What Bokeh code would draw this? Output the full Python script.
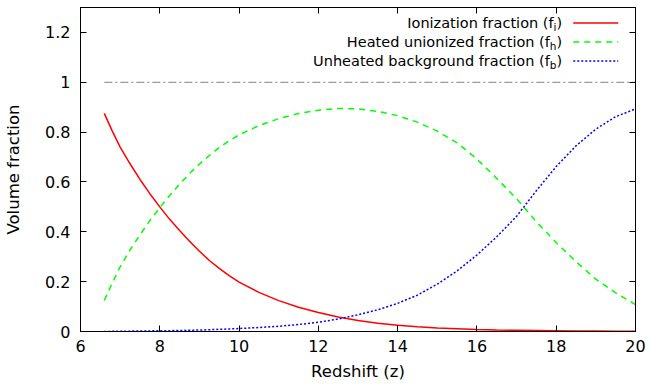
from bokeh.plotting import figure
from bokeh.models import Range1d, FixedTicker, LinearAxis, Label, CustomJSTickFormatter
from bokeh.embed import file_html
from bokeh.resources import INLINE

# ---- data ----
z = [6.6, 6.8, 7, 7.25, 7.5, 7.75, 8, 8.25, 8.5, 8.75, 9, 9.25, 9.5, 9.75, 10,
     10.5, 11, 11.5, 12, 12.5, 13, 13.5, 14, 14.5, 15, 15.5, 16, 16.5, 17, 17.5,
     18, 18.5, 19, 19.5, 20]
f_ion = [0.875, 0.805, 0.74, 0.673, 0.61, 0.553, 0.50, 0.45, 0.405, 0.362, 0.322,
         0.285, 0.253, 0.224, 0.198,
         0.157, 0.124, 0.097, 0.076, 0.058, 0.044, 0.033, 0.025, 0.019, 0.014, 0.011,
         0.008, 0.006, 0.005, 0.004, 0.003, 0.002, 0.002, 0.001, 0.001]
f_heat = [0.125, 0.194, 0.259, 0.327, 0.388, 0.445, 0.497, 0.546, 0.591, 0.634, 0.672,
          0.706, 0.738, 0.765, 0.789,
          0.826, 0.854, 0.875, 0.888, 0.895, 0.893, 0.883, 0.866, 0.84, 0.804, 0.757,
          0.692, 0.614, 0.533, 0.44, 0.357, 0.28, 0.21, 0.155, 0.108]
f_back = [0.000, 0.0005, 0.001, 0.0015, 0.002, 0.0025, 0.003, 0.0035, 0.004, 0.005, 0.006,
          0.007, 0.009, 0.010, 0.012,
          0.016, 0.021, 0.028, 0.037, 0.05, 0.067, 0.087, 0.113, 0.146, 0.19, 0.243,
          0.307, 0.38, 0.462, 0.565, 0.662, 0.745, 0.812, 0.862, 0.893]
total_z = [6.6, 20]
total = [1.0, 1.0]

x_ticks = [6, 8, 10, 12, 14, 16, 18, 20]
y_ticks = [0, 0.2, 0.4, 0.6, 0.8, 1, 1.2]

legend_main = ["Ionization fraction (f", "Heated unionized fraction (f", "Unheated background fraction (f"]
legend_sub = ["i", "h", "b"]
colors = ["#ff0000", "#00ff00", "#0000ff"]
dashes = ["solid", "6 5", "2 2"]

FONT = "DejaVu Sans"

p = figure(width=649, height=387, x_range=Range1d(6, 20), y_range=Range1d(0, 1.3),
           output_backend="svg", toolbar_location=None,
           min_border_left=80, min_border_right=14, min_border_top=7, min_border_bottom=56)
p.grid.visible = False
p.outline_line_color = "black"
p.outline_line_width = 1
p.background_fill_color = "white"
p.border_fill_color = "white"

fmt = CustomJSTickFormatter(code="return tick.toString();")
blank = CustomJSTickFormatter(code="return '';")

for ax in p.xaxis:
    ax.ticker = FixedTicker(ticks=x_ticks)
    ax.axis_label = "Redshift (z)"
    ax.major_label_standoff = 8
    ax.axis_label_standoff = 7
for ax in p.yaxis:
    ax.ticker = FixedTicker(ticks=y_ticks)
    ax.formatter = fmt
    ax.axis_label = "Volume fraction"
    ax.major_label_standoff = 10
    ax.axis_label_standoff = 19

for ax in list(p.xaxis) + list(p.yaxis):
    ax.major_tick_in = 6
    ax.major_tick_out = 0
    ax.minor_tick_in = 0
    ax.minor_tick_out = 0
    ax.axis_line_color = "black"
    ax.major_tick_line_color = "black"
    ax.major_label_text_font = FONT
    ax.major_label_text_font_size = "16px"
    ax.major_label_text_color = "black"
    ax.axis_label_text_font = FONT
    ax.axis_label_text_font_size = "16.5px"
    ax.axis_label_text_font_style = "normal"
    ax.axis_label_text_color = "black"

# mirrored ticks (top, right), without labels
top = LinearAxis(ticker=FixedTicker(ticks=x_ticks), formatter=blank,
                 major_tick_in=6, major_tick_out=0, minor_tick_in=0, minor_tick_out=0,
                 major_label_standoff=0, axis_line_color="black")
right = LinearAxis(ticker=FixedTicker(ticks=y_ticks), formatter=blank,
                   major_tick_in=6, major_tick_out=0, minor_tick_in=0, minor_tick_out=0,
                   major_label_standoff=0, axis_line_color="black")
p.add_layout(top, "above")
p.add_layout(right, "right")

# total line
p.line(total_z, total, line_color="#808080", line_width=1, line_dash="8 3 2 3")

series = [f_ion, f_heat, f_back]
for vals, c, d in zip(series, colors, dashes):
    p.line(z, vals, line_color=c, line_width=1.5, line_dash=d)

# legend (manual, for subscripts)
leg_y = [1.238, 1.162, 1.0855]
leg_x_text = 18.15
leg_x0, leg_x1 = 18.43, 19.565
sub_w = {"i": 2.9, "h": 6.6, "b": 6.7}
paren_w = 5.7
for i in range(3):
    y = leg_y[i]
    p.line([leg_x0, leg_x1], [y, y], line_color=colors[i], line_width=1.5, line_dash=dashes[i])
    p.add_layout(Label(x=leg_x_text, y=y, text=")", text_align="right", text_baseline="middle",
                       text_font=FONT, text_font_size="14.5px", text_color="black"))
    p.add_layout(Label(x=leg_x_text, y=y, x_offset=-paren_w, y_offset=-4, text=legend_sub[i],
                       text_align="right", text_baseline="middle",
                       text_font=FONT, text_font_size="10.5px", text_color="black"))
    p.add_layout(Label(x=leg_x_text, y=y, x_offset=-(paren_w + sub_w[legend_sub[i]]),
                       text=legend_main[i], text_align="right", text_baseline="middle",
                       text_font=FONT, text_font_size="14.5px", text_color="black"))

open("out.html", "w").write(file_html(p, INLINE))
